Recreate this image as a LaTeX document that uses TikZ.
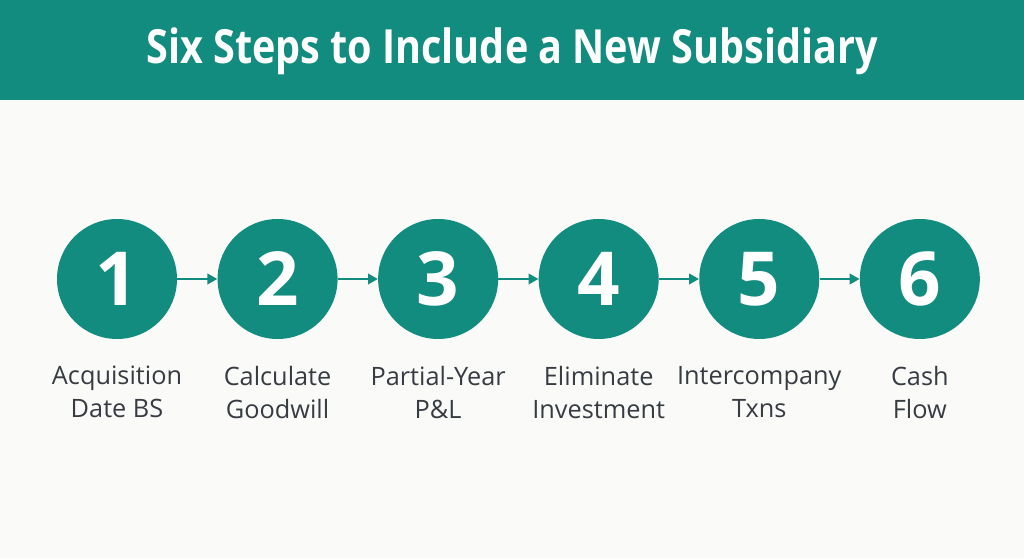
\documentclass[tikz,border=0pt]{standalone}
\usepackage{fontspec}
\setmainfont{Open Sans}
\newfontfamily\titlefont[FakeStretch=0.84]{Open Sans}
\usetikzlibrary{positioning,arrows.meta}
\definecolor{teal}{RGB}{18,140,126}
\definecolor{labelgray}{RGB}{55,60,66}
\definecolor{paper}{RGB}{250,250,248}
\tikzset{
	stepnode/.style = {shape=circle, fill=teal, minimum size=3cm, inner sep=0pt, text=white, font=\fontsize{53}{53}\selectfont\bfseries},
	labelnode/.style = {align=center, text=labelgray, inner sep=0pt, font=\fontsize{18}{23.5}\selectfont},
	edge/.style = {draw=teal, line width=1.4pt, -{Triangle[length=7pt,width=7.5pt]}}
}
\begin{document}
\begin{tikzpicture}[node distance=1cm]
	% background and title bar
	\fill[paper] (0,0) rectangle (25.6,13.95);
	\fill[teal] (0,11.45) rectangle (25.6,13.95);
	\node[text=white, font=\titlefont\fontsize{33.5}{33.5}\selectfont\bfseries] (title) at (12.8,12.68) {Six Steps to Include a New Subsidiary};

	% steps
	\node[stepnode] (1) at (2.925,6.975) {1};
	\node[stepnode, right=of 1] (2) {2};
	\node[stepnode, right=of 2] (3) {3};
	\node[stepnode, right=of 3] (4) {4};
	\node[stepnode, right=of 4] (5) {5};
	\node[stepnode, right=of 5] (6) {6};

	\draw[edge] (1) -- (2);
	\draw[edge] (2) -- (3);
	\draw[edge] (3) -- (4);
	\draw[edge] (4) -- (5);
	\draw[edge] (5) -- (6);

	% labels
	\node[labelnode, below=0.66cm of 1] (l1) {Acquisition\\Date BS};
	\node[labelnode, below=0.66cm of 2] (l2) {Calculate\\Goodwill};
	\node[labelnode, below=0.66cm of 3] (l3) {Partial-Year\\P\&L};
	\node[labelnode, below=0.66cm of 4] (l4) {Eliminate\\Investment};
	\node[labelnode, below=0.66cm of 5] (l5) {Intercompany\\Txns};
	\node[labelnode, below=0.66cm of 6] (l6) {Cash\\Flow};
\end{tikzpicture}
\end{document}
